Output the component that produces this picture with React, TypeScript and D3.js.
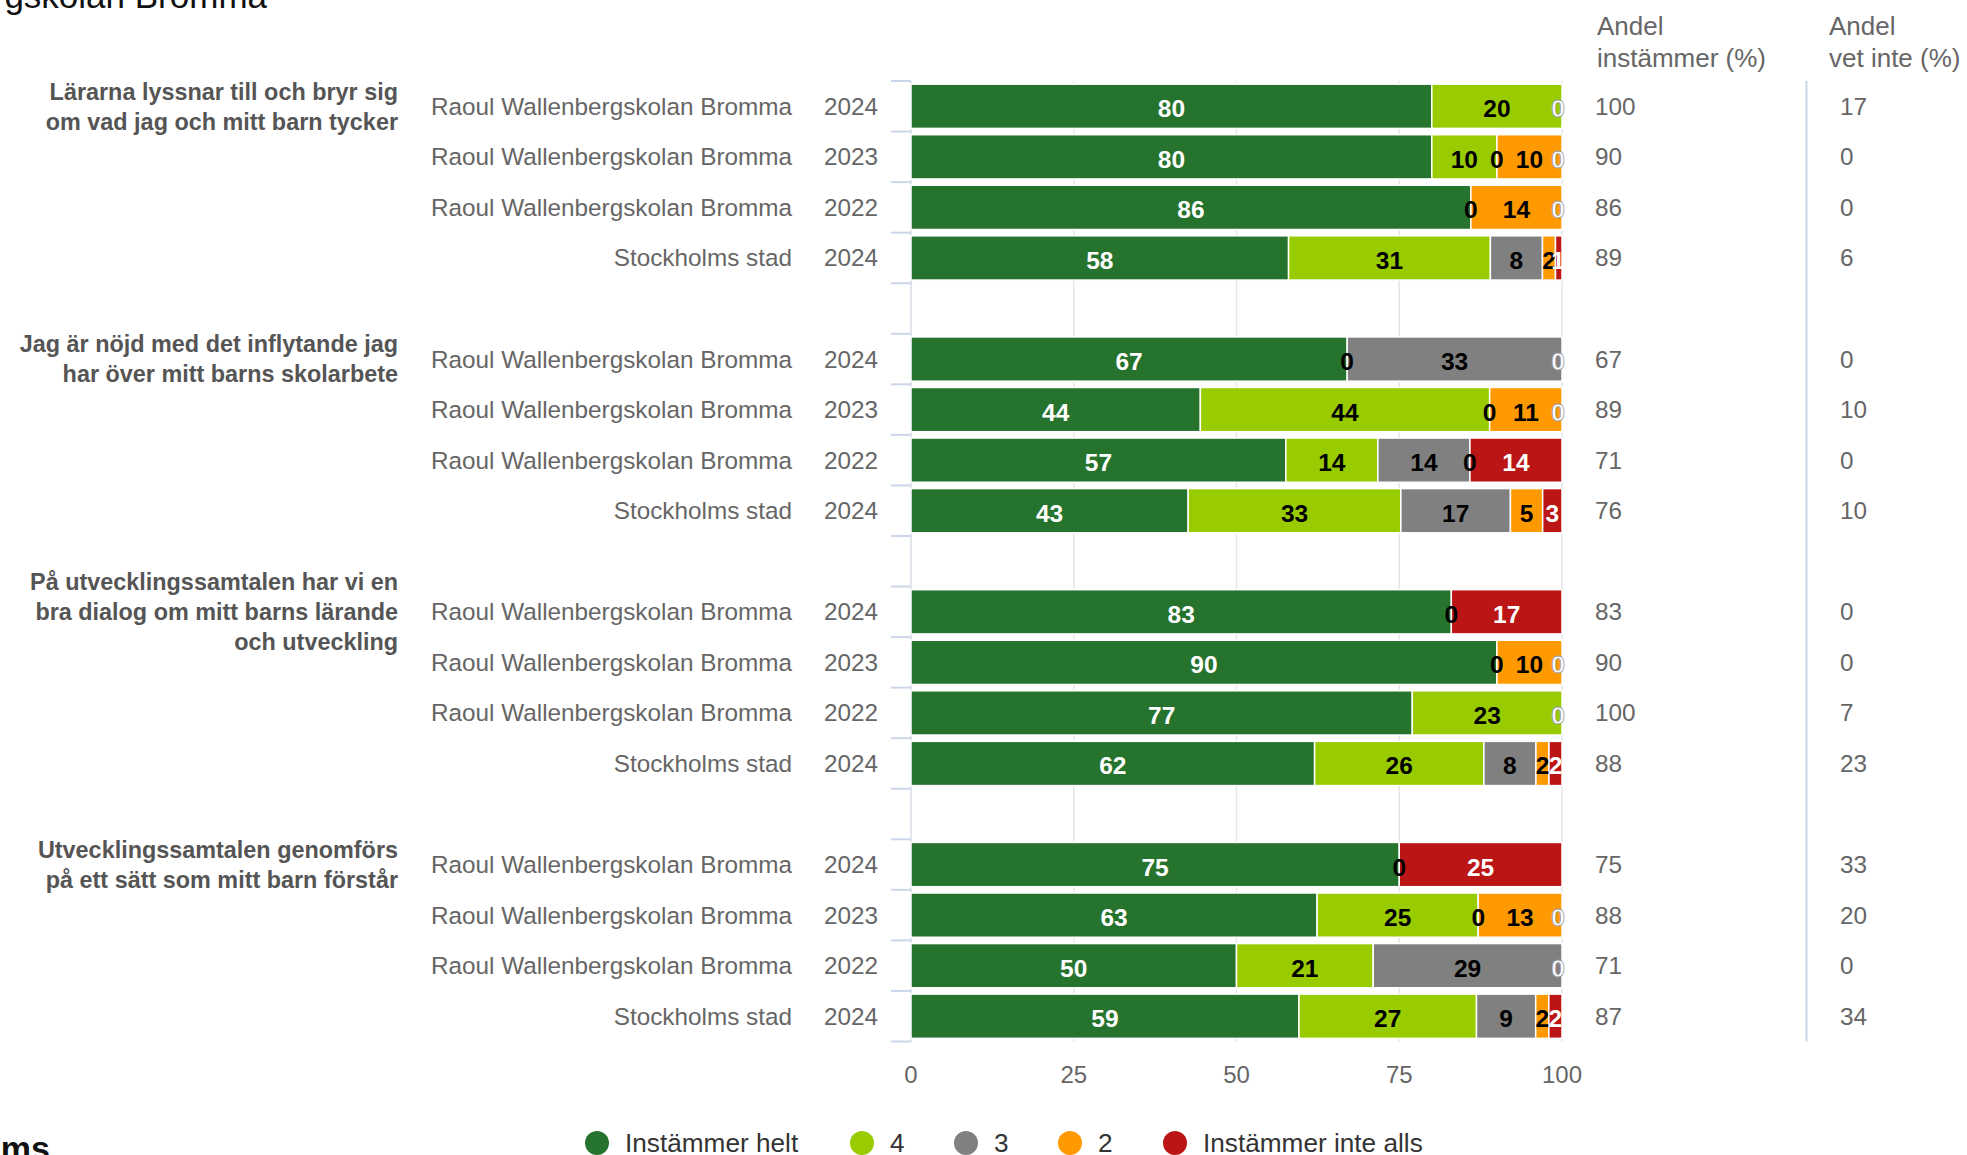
import React from "react";
import * as d3 from "d3";

// ---- Data ----
const groupLabels: string[][] = [
  ["Lärarna lyssnar till och bryr sig", "om vad jag och mitt barn tycker"],
  ["Jag är nöjd med det inflytande jag", "har över mitt barns skolarbete"],
  ["På utvecklingssamtalen har vi en", "bra dialog om mitt barns lärande", "och utveckling"],
  ["Utvecklingssamtalen genomförs", "på ett sätt som mitt barn förstår"],
];
const rowUnits = [
  "Raoul Wallenbergskolan Bromma",
  "Raoul Wallenbergskolan Bromma",
  "Raoul Wallenbergskolan Bromma",
  "Stockholms stad",
];
const rowYears = ["2024", "2023", "2022", "2024"];

const seriesNames = ["Instämmer helt", "4", "3", "2", "Instämmer inte alls"];
const seriesColors = ["#26732e", "#99cc00", "#808080", "#ff9900", "#bb1515"];
const labelColors = ["#ffffff", "#000000", "#000000", "#000000", "#ffffff"];

const instammerHelt = [80, 80, 86, 58, 67, 44, 57, 43, 83, 90, 77, 62, 75, 63, 50, 59];
const varde4 = [20, 10, 0, 31, 0, 44, 14, 33, 0, 0, 23, 26, 0, 25, 21, 27];
const varde3 = [0, 0, 0, 8, 33, 0, 14, 17, 0, 0, 0, 8, 0, 0, 29, 9];
const varde2 = [0, 10, 14, 2, 0, 11, 0, 5, 0, 10, 0, 2, 0, 13, 0, 2];
const instammerInteAlls = [0, 0, 0, 1, 0, 0, 14, 3, 17, 0, 0, 2, 25, 0, 0, 2];

const andelInstammer = [100, 90, 86, 89, 67, 89, 71, 76, 83, 90, 100, 88, 75, 88, 71, 87];
const andelVetInte = [17, 0, 0, 6, 0, 10, 0, 10, 0, 0, 7, 23, 33, 20, 0, 34];

const xTicks = [0, 25, 50, 75, 100];

const FONT = "'Liberation Sans', Arial, Helvetica, sans-serif";

export default function App() {
  const W = 1967;
  const H = 1155;
  const series = [instammerHelt, varde4, varde3, varde2, instammerInteAlls];

  const slots: string[] = [];
  const rowIndexSlots: string[] = [];
  groupLabels.forEach((_, g) => {
    for (let r = 0; r < 4; r++) {
      slots.push(`g${g}r${r}`);
      rowIndexSlots.push(`g${g}r${r}`);
    }
    if (g < groupLabels.length - 1) slots.push(`gap${g}`);
  });

  const plotTop = 81;
  const plotBottom = 1041.5;
  const y = d3
    .scaleBand<string>()
    .domain(slots)
    .range([plotTop, plotBottom])
    .paddingInner(0.125)
    .paddingOuter(0.0625);
  const x = d3.scaleLinear().domain([0, 100]).range([911, 1562]);
  const step = y.step();
  const bw = y.bandwidth();

  const boundaries = d3.range(slots.length + 1).map((i) => plotTop + i * step);

  const rows = rowIndexSlots.map((slot, i) => {
    const g = Math.floor(i / 4);
    const r = i % 4;
    const total = d3.sum(series, (s) => s[i]);
    let cum = 0;
    const segs = series.map((s, si) => {
      const v = s[i];
      const p0 = (cum / total) * 100;
      cum += v;
      const p1 = (cum / total) * 100;
      const next = si < series.length - 1 ? series[si + 1][i] : null;
      const showLabel = v > 0 || next === null || next > 0;
      return { si, v, p0, p1, showLabel };
    });
    return { slot, i, g, r, segs };
  });

  const xr = x(100);

  return (
    <svg
      width={W}
      height={H}
      style={{ position: "absolute", left: 0, top: 0, background: "#fff" }}
      fontFamily={FONT}
    >
      <rect x={0} y={0} width={W} height={H} fill="#ffffff" />
      {/* partial page heading fragments */}
      <text x={267} y={8} fontSize={35} fill="#111" textAnchor="end">
        Raoul Wallenbergskolan Bromma
      </text>
      <text x={50} y={1160} fontSize={34} fontWeight="bold" fill="#111" textAnchor="end">
        Stockholms
      </text>

      {/* grid lines */}
      {xTicks.map((t) => (
        <line key={`g${t}`} x1={x(t)} x2={x(t)} y1={plotTop} y2={plotBottom} stroke="#e6e6e6" strokeWidth={1.5} />
      ))}
      {/* axis line */}
      <line x1={x(0)} x2={x(0)} y1={plotTop} y2={plotBottom} stroke="#dfe3ec" strokeWidth={1.5} />
      {/* category ticks */}
      {boundaries.map((b, i) => (
        <line key={`t${i}`} x1={891} x2={911} y1={b} y2={b} stroke="#ccd6eb" strokeWidth={2} />
      ))}

      {/* bars */}
      {rows.map((row) => {
        const by = y(row.slot)!;
        return (
          <g key={row.slot}>
            {row.segs
              .filter((s) => s.v > 0)
              .map((s) => (
                <rect
                  key={s.si}
                  x={x(s.p0)}
                  y={by}
                  width={x(s.p1) - x(s.p0)}
                  height={bw}
                  fill={seriesColors[s.si]}
                  stroke="#ffffff"
                  strokeWidth={1.5}
                />
              ))}
          </g>
        );
      })}

      {/* data labels */}
      {rows.map((row) => {
        const cy = y(row.slot)! + bw / 2;
        return (
          <g key={`l${row.slot}`}>
            {row.segs
              .filter((s) => s.showLabel)
              .map((s) => {
                let cx = (x(s.p0) + x(s.p1)) / 2;
                if (cx > xr - 4) cx = xr - 4;
                const col = labelColors[s.si];
                const edgeZero = s.v === 0 && s.p1 >= 99.99 && col === "#ffffff";
                return (
                  <text
                    key={s.si}
                    x={cx}
                    y={cy + 11}
                    fontSize={24.5}
                    fontWeight="bold"
                    fill={col}
                    textAnchor="middle"
                    stroke={edgeZero ? "#9a9a9a" : "none"}
                    strokeWidth={edgeZero ? 0.8 : 0}
                  >
                    {String(s.v)}
                  </text>
                );
              })}
          </g>
        );
      })}

      {/* row labels */}
      {rows.map((row) => {
        const cy = y(row.slot)! + bw / 2;
        return (
          <g key={`r${row.slot}`} fontSize={24.3} fill="#666666">
            <text x={792} y={cy + 8.5} textAnchor="end">
              {rowUnits[row.r]}
            </text>
            <text x={824} y={cy + 8.5}>
              {rowYears[row.r]}
            </text>
            <text x={1595} y={cy + 8.5}>
              {andelInstammer[row.i]}
            </text>
            <text x={1840} y={cy + 8.5}>
              {andelVetInte[row.i]}
            </text>
          </g>
        );
      })}

      {/* group labels, centred on first row of the group */}
      {groupLabels.map((lines, g) => {
        const cy = y(`g${g}r0`)! + bw / 2;
        const lh = 30;
        const start = cy - ((lines.length - 1) * lh) / 2;
        return (
          <g key={`gl${g}`} fontSize={23.4} fontWeight="bold" fill="#555555">
            {lines.map((ln, k) => (
              <text key={k} x={398} y={start + k * lh + 8.3} textAnchor="end">
                {ln}
              </text>
            ))}
          </g>
        );
      })}

      {/* right column headers */}
      <g fontSize={26} fill="#666666">
        <text x={1597} y={35}>Andel</text>
        <text x={1597} y={67}>instämmer (%)</text>
        <text x={1829} y={35}>Andel</text>
        <text x={1829} y={67}>vet inte (%)</text>
      </g>
      <line x1={1806.5} x2={1806.5} y1={81} y2={plotBottom} stroke="#ccd6eb" strokeWidth={2} />

      {/* x axis labels */}
      {xTicks.map((t) => (
        <text key={`xl${t}`} x={x(t)} y={1082.5} fontSize={24} fill="#666666" textAnchor="middle">
          {t}
        </text>
      ))}

      {/* legend */}
      {(() => {
        const legendX = [597, 862, 966, 1070, 1175];
        return seriesNames.map((n, i) => (
          <g key={`lg${i}`}>
            <circle cx={legendX[i]} cy={1143} r={12} fill={seriesColors[i]} />
            <text x={legendX[i] + 28} y={1152} fontSize={26.2} fill="#333333">
              {n}
            </text>
          </g>
        ));
      })()}
    </svg>
  );
}
